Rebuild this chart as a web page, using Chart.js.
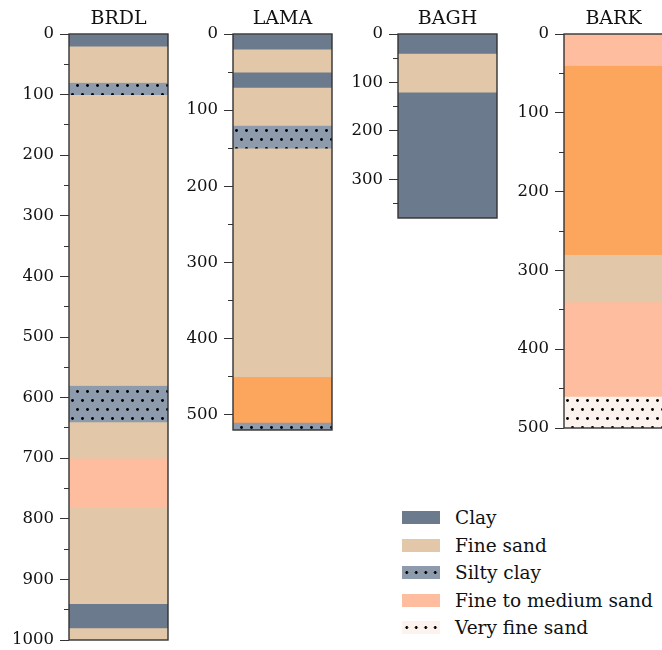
<!DOCTYPE html>
<html>
<head>
<meta charset="utf-8">
<script src="https://cdn.jsdelivr.net/npm/chart.js@4.4.1/dist/chart.umd.min.js"></script>
<style>
  html, body { margin: 0; padding: 0; background: #fff; overflow: hidden; }
  body { width: 662px; height: 650px; position: relative; }
  canvas { position: absolute; top: 0; }
  #legend { position: absolute; left: 402px; top: 504px; font: 18.5px "DejaVu Serif", serif; color: #111; }
  #legend div { height: 27.5px; display: flex; align-items: center; }
  #legend span.sw { width: 38px; height: 13px; margin-right: 15px; display: inline-block; }
</style>
</head>
<body>
<canvas id="brdl" width="171" height="654" style="left:0px"></canvas>
<canvas id="lama" width="171" height="444" style="left:164px"></canvas>
<canvas id="bagh" width="171" height="232" style="left:329px"></canvas>
<canvas id="bark" width="171" height="442" style="left:495px"></canvas>
<div id="legend"></div>
<script>
// Layer boundaries (depth) and soil type of each layer, per borehole
const brdlDepth = [0, 20, 80, 100, 580, 640, 700, 780, 940, 980, 1000];
const brdlSoil = ['Clay', 'Fine sand', 'Silty clay', 'Fine sand', 'Silty clay', 'Fine sand', 'Fine to medium sand', 'Fine sand', 'Clay', 'Fine sand'];

const lamaDepth = [0, 20, 50, 70, 120, 150, 450, 510, 520];
const lamaSoil = ['Clay', 'Fine sand', 'Clay', 'Fine sand', 'Silty clay', 'Fine sand', 'Medium sand', 'Silty clay'];

const baghDepth = [0, 40, 120, 380];
const baghSoil = ['Clay', 'Fine sand', 'Clay'];

const barkDepth = [0, 40, 280, 340, 460, 500];
const barkSoil = ['Fine to medium sand', 'Medium sand', 'Fine sand', 'Fine to medium sand', 'Very fine sand'];

const legendSoils = ['Clay', 'Fine sand', 'Silty clay', 'Fine to medium sand', 'Very fine sand'];

Chart.defaults.font.family = '"DejaVu Serif", serif';
Chart.defaults.font.size = 16.5;
Chart.defaults.color = '#111';

// dotted fill like a hatch
function dotted(base) {
    const c = document.createElement('canvas');
    c.width = 10; c.height = 18;
    const g = c.getContext('2d');
    g.fillStyle = base;
    g.fillRect(0, 0, 10, 18);
    g.fillStyle = '#000';
    [[2.5, 4.5], [7.5, 13.5]].forEach(function (p) {
        g.beginPath();
        g.arc(p[0], p[1], 1.45, 0, Math.PI * 2);
        g.fill();
    });
    return g.createPattern(c, 'repeat');
}

const soilFill = {
    'Clay': '#6b7a8c',
    'Fine sand': '#e2c8a9',
    'Silty clay': dotted('#8e9bac'),
    'Fine to medium sand': '#fdbd9e',
    'Medium sand': '#fca55c',
    'Very fine sand': dotted('#fdf3ee')
};

// box around the plot area
const frame = {
    id: 'frame',
    afterDatasetsDraw(chart) {
        const a = chart.chartArea, ctx = chart.ctx;
        ctx.save();
        ctx.strokeStyle = '#333';
        ctx.lineWidth = 1.4;
        ctx.strokeRect(a.left, a.top, a.right - a.left, a.bottom - a.top);
        ctx.restore();
    }
};

function drawLog(id, name, depth, soil) {
    const datasets = soil.map(function (s, i) {
        return {
            label: s,
            data: [[depth[i], depth[i + 1]]],
            backgroundColor: soilFill[s],
            borderWidth: 0,
            grouped: false,
            barPercentage: 1,
            categoryPercentage: 1
        };
    });
    const maxDepth = depth[depth.length - 1];
    new Chart(document.getElementById(id), {
        type: 'bar',
        data: { labels: [name], datasets: datasets },
        plugins: [frame],
        options: {
            responsive: false,
            animation: false,
            layout: { padding: { top: 0, left: 0, right: 3, bottom: 14 } },
            plugins: { legend: { display: false }, tooltip: { enabled: false } },
            scales: {
                x: {
                    position: 'top',
                    grid: { display: false, drawTicks: false },
                    border: { display: false },
                    ticks: { padding: 4, color: '#111', font: { size: 19 } },
                    afterFit: function (s) { s.height = 34; s.paddingLeft = 0; s.paddingRight = 0; }
                },
                y: {
                    reverse: true, min: 0, max: maxDepth, weight: 1,
                    ticks: { stepSize: 100, includeBounds: false, padding: 6, color: '#111',
                        callback: function (v) { return String(v); } },
                    grid: { drawOnChartArea: false, tickLength: 9, tickColor: '#333' },
                    border: { display: false },
                    afterFit: function (s) { s.width = 69; s.paddingTop = 0; s.paddingBottom = 0; }
                },
                yMinor: {
                    position: 'left', reverse: true, min: 0, max: maxDepth, weight: 0,
                    ticks: { stepSize: 50, includeBounds: false, display: false },
                    grid: { drawOnChartArea: false, tickLength: 5, tickColor: '#333' },
                    border: { display: false },
                    afterFit: function (s) { s.width = 0; s.paddingTop = 0; s.paddingBottom = 0; }
                }
            }
        }
    });
}

drawLog('brdl', 'BRDL', brdlDepth, brdlSoil);
drawLog('lama', 'LAMA', lamaDepth, lamaSoil);
drawLog('bagh', 'BAGH', baghDepth, baghSoil);
drawLog('bark', 'BARK', barkDepth, barkSoil);

// legend
const swatchCss = {
    'Clay': 'background:#6b7a8c',
    'Fine sand': 'background:#e2c8a9',
    'Silty clay': 'background:radial-gradient(circle, #000 1.2px, transparent 1.7px) 0 0/9.5px 13px, #8e9bac',
    'Fine to medium sand': 'background:#fdbd9e',
    'Very fine sand': 'background:radial-gradient(circle, #000 1.2px, transparent 1.7px) 0 0/9.5px 13px, #fdf3ee'
};
const legend = document.getElementById('legend');
legendSoils.forEach(function (s) {
    const row = document.createElement('div');
    row.innerHTML = '<span class="sw" style="' + swatchCss[s] + '"></span>' + s;
    legend.appendChild(row);
});
</script>
</body>
</html>
